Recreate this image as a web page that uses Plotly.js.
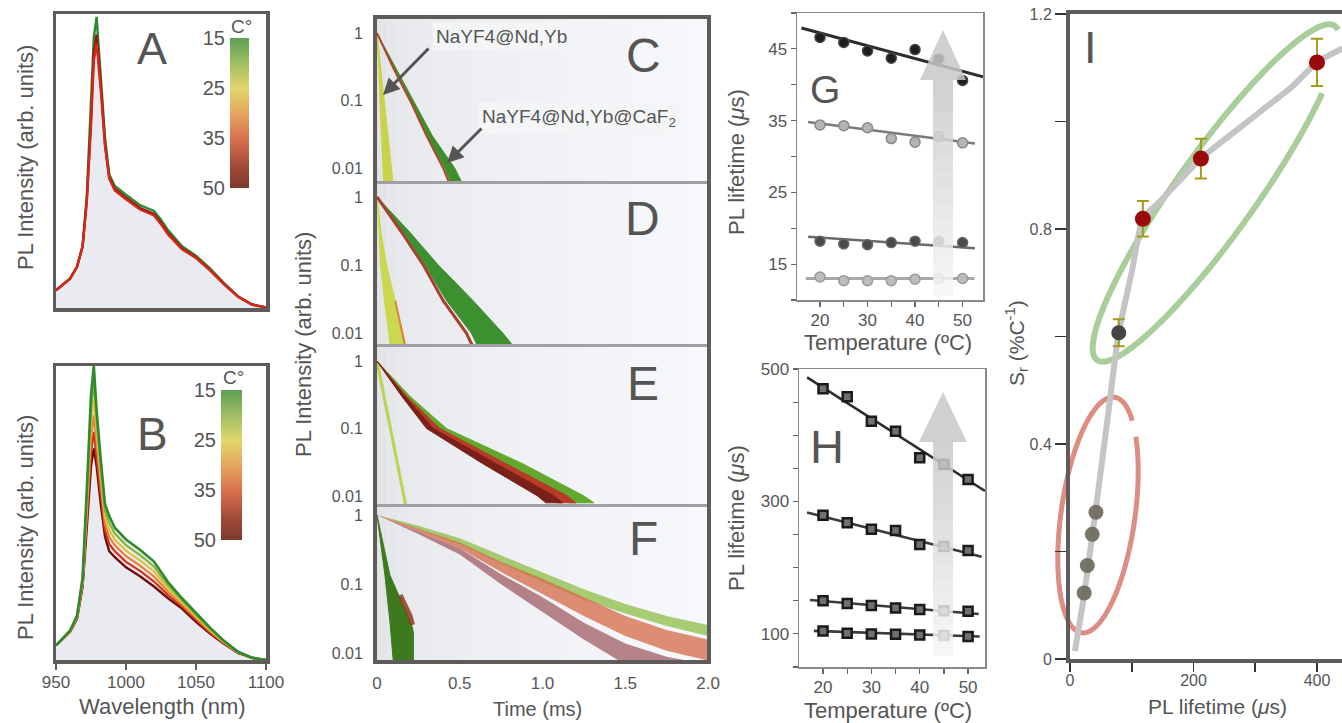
<!DOCTYPE html>
<html>
<head>
<meta charset="utf-8">
<script src="https://cdn.plot.ly/plotly-3.0.1.min.js"></script>
<style>html,body{margin:0;padding:0;background:#fff;}#chart{width:1342px;height:723px;}</style>
</head>
<body>
<div id="chart"></div>
<script>
// ================= DATA =================
// Panels A/B : emission spectra (normalised)
const wavelengthNm = [950,960,965,969,972,975,977,979,982,985,988,992,1000,1010,1020,1025,1030,1040,1050,1060,1070,1080,1090,1100];
const specA_15C = [0.06,0.10,0.14,0.21,0.38,0.68,0.92,0.99,0.80,0.58,0.455,0.415,0.385,0.35,0.33,0.30,0.265,0.21,0.178,0.135,0.085,0.04,0.012,0.002];
const specA_35C = [0.06,0.10,0.14,0.21,0.37,0.64,0.87,0.93,0.76,0.56,0.445,0.405,0.375,0.34,0.32,0.29,0.255,0.203,0.172,0.13,0.082,0.039,0.012,0.002];
const specA_50C = [0.06,0.10,0.14,0.21,0.36,0.62,0.84,0.90,0.74,0.55,0.44,0.40,0.37,0.335,0.315,0.285,0.25,0.20,0.17,0.128,0.08,0.038,0.011,0.002];
const specB_15C = [0.05,0.10,0.15,0.28,0.58,0.90,1.00,0.85,0.68,0.53,0.49,0.45,0.41,0.375,0.335,0.30,0.265,0.21,0.16,0.11,0.065,0.028,0.008,0.0];
const specB_22C = [0.05,0.099,0.148,0.274,0.554,0.852,0.944,0.812,0.65,0.508,0.466,0.43,0.391,0.357,0.318,0.286,0.254,0.203,0.154,0.106,0.063,0.027,0.008,0];
const specB_29C = [0.05,0.098,0.146,0.268,0.528,0.804,0.888,0.774,0.62,0.486,0.442,0.41,0.372,0.339,0.301,0.272,0.243,0.196,0.148,0.102,0.061,0.026,0.008,0];
const specB_36C = [0.05,0.097,0.144,0.262,0.502,0.756,0.832,0.736,0.59,0.464,0.418,0.39,0.353,0.321,0.284,0.258,0.232,0.189,0.142,0.098,0.059,0.026,0.007,0];
const specB_43C = [0.05,0.096,0.142,0.256,0.476,0.708,0.776,0.698,0.56,0.442,0.394,0.37,0.334,0.303,0.267,0.244,0.221,0.182,0.136,0.094,0.057,0.025,0.007,0];
const specB_50C = [0.05,0.095,0.14,0.25,0.45,0.66,0.72,0.66,0.53,0.42,0.37,0.35,0.315,0.285,0.25,0.23,0.21,0.175,0.13,0.09,0.055,0.024,0.007,0.0];
const cbTemps = [15,25,35,50];
const cbPos = [0,1,2,3];
const cbTickText = ['15','25','35','50'];

// Panels C-F : decay curves (time in ms at given intensity levels)
const cCoreLv = [1,0.1,0.01,0.005];
const cCoreEarly = [0,0.016,0.036,0.042];
const cCoreLate = [0,0.045,0.088,0.10];
const cShellLv = [1,0.3,0.1,0.03,0.01,0.005];
const cShellEarly = [0,0.105,0.205,0.305,0.41,0.46];
const cShellLate = [0,0.11,0.22,0.335,0.47,0.53];
const cShellRed = [0,0.10,0.20,0.30,0.40,0.45];

const dLv = [1,0.3,0.1,0.03,0.01,0.005];
const dCoreEarly = [0,0.01,0.022,0.045,0.073,0.085];
const dCoreLate = [0,0.025,0.058,0.11,0.157,0.18];
const dShellRed = [0,0.15,0.28,0.40,0.54,0.60];
const dShellEarly = [0,0.16,0.29,0.42,0.57,0.63];
const dShellLate = [0,0.20,0.37,0.58,0.76,0.86];

const eLv = [1,0.3,0.1,0.03,0.01,0.0079];
const eCoreT = [0,0.08,0.16,0.175];
const eCoreI = [1,0.1,0.01,0.007];
const eDarkEarly = [0,0.15,0.30,0.64,0.97,1.02];
const eDarkLate = [0,0.17,0.34,0.72,1.07,1.12];
const eRedEarly = [0,0.16,0.32,0.68,1.04,1.09];
const eRedLate = [0,0.18,0.38,0.78,1.15,1.20];
const eGreenEarly = [0,0.17,0.35,0.74,1.10,1.16];
const eGreenLate = [0,0.20,0.42,0.88,1.25,1.31];

const fCoreT = [0,0.078,0.21,0.22,0.22,0.10,0.08,0.048,0];
const fCoreI = [1,0.136,0.026,0.02,0.007,0.007,0.026,0.136,1];
const fCoreTailT = [0.14,0.20,0.215];
const fCoreTailI = [0.07,0.035,0.026];
const fT = [0,0.25,0.5,0.75,1.0,1.25,1.5,1.75,2.0];
const fGreenHi = [1,0.70,0.46,0.26,0.15,0.085,0.052,0.035,0.026];
const fGreenLo = [1,0.62,0.38,0.20,0.11,0.06,0.038,0.025,0.018];
const fOrangeHi = [1,0.63,0.40,0.21,0.12,0.065,0.035,0.022,0.016];
const fOrangeLo = [1,0.57,0.33,0.15,0.072,0.035,0.018,0.011,0.008];
const fDarkHi = [1,0.58,0.33,0.14,0.065,0.028,0.014,0.009,0.007];
const fDarkLo = [1,0.53,0.27,0.10,0.04,0.016,0.007,0.004,0.003];
const timeTickVals = [0,0.5,1.0,1.5,2.0];
const timeTickText = ['0','0.5','1.0','1.5','2.0'];

// Panel G : lifetimes (µs) vs temperature
const tempC = [20,25,30,35,40,45,50];
const g1 = [46.6,45.9,44.7,43.7,44.9,43.6,40.6];
const g2 = [34.4,34.3,34.0,32.5,32.0,32.8,31.9];
const g3 = [18.2,17.8,17.7,18.0,18.2,18.2,18.0];
const g4 = [13.2,12.7,12.7,12.7,12.9,13.0,13.0];
const gFit1T = [16.1,54.3], gFit1 = [47.9,41.1];
const gFit2T = [17.5,52.6], gFit2 = [34.8,31.8];
const gFit3T = [17.5,52.6], gFit3 = [18.8,17.2];
const gFit4T = [17.0,52.5], gFit4 = [13.0,13.0];
// Panel H
const h1 = [470,458,421,406,366,356,333];
const h2 = [279,268,258,256,235,232,226];
const h3 = [150,146,143,139,137,135,134];
const h4 = [104.5,101,100,99.5,98.5,97.5,96];
const hFit1T = [16.7,53.5], hFit1 = [487.5,315.8];
const hFit2T = [16.7,52.8], hFit2 = [283.2,216.4];
const hFit3T = [17.3,52.2], hFit3 = [151.2,130];
const hFit4T = [18.1,52.4], hFit4 = [104.5,96];
const tempTickVals = [20,25,30,35,40,45,50];
const tempTickText = ['20','','30','','40','','50'];
const gTickVals = [10,15,20,25,30,35,40,45,50];
const gTickText = ['','15','','25','','35','','45',''];
const hTickVals = [50,100,150,200,250,300,350,400,450,500];
const hTickText = ['','100','','','','300','','','','500'];

// Panel I : relative sensitivity vs lifetime
const iRedLife = [118,212,400];
const iRedSr = [0.819,0.931,1.11];
const iRedErr = [0.033,0.037,0.044];
const iGrayLife = [79];
const iGraySr = [0.607];
const iGrayErr = [0.025];
const iLowLife = [42,36,28,23];
const iLowSr = [0.273,0.232,0.174,0.123];
const iCurveLife = [8,23,36,42,60,79,100,118,146,175,212,260,310,360,400,441];
const iCurveSr = [0.015,0.12,0.23,0.28,0.44,0.607,0.72,0.819,0.852,0.887,0.931,0.975,1.02,1.065,1.11,1.136];
const iXTickVals = [0,100,200,300,400];
const iXTickText = ['0','','200','','400'];
const iYTickVals = [0,0.2,0.4,0.6,0.8,1.0,1.2];
const iYTickText = ['0','','0.4','','0.8','','1.2'];

// ================= STYLE / LAYOUT =================
const W = 1342, H = 723;
const FONT = 'Liberation Sans, Arial, Helvetica, sans-serif';
const TXT = '#555555';
const FRAME = '#5f5b5b';
const xd = (a,b) => [a/W, b/W];
const yd = (top,bottom) => [1-bottom/H, 1-top/H];
const px = v => v/W, py = v => 1-v/H;

const traces = [];
function line(xa, ya, x, y, color, width, extra) {
  traces.push(Object.assign({type:'scatter', mode:'lines', x:x, y:y, xaxis:xa, yaxis:ya,
    line:{color:color, width:width}, hoverinfo:'skip', showlegend:false}, extra||{}));
}
function band(xa, ya, levels, early, late, color) {
  traces.push({type:'scatter', mode:'lines', xaxis:xa, yaxis:ya,
    x: early.concat(late.slice().reverse()), y: levels.concat(levels.slice().reverse()),
    fill:'toself', fillcolor:color, line:{color:color, width:1}, hoverinfo:'skip', showlegend:false});
}
function vband(xa, ya, x, lo, hi, color) {
  traces.push({type:'scatter', mode:'lines', x:x, y:lo, xaxis:xa, yaxis:ya, line:{width:0, color:color}, hoverinfo:'skip', showlegend:false});
  traces.push({type:'scatter', mode:'lines', x:x, y:hi, xaxis:xa, yaxis:ya, fill:'tonexty', fillcolor:color, line:{width:0, color:color}, hoverinfo:'skip', showlegend:false});
}

// ---- A ----
line('x','y', wavelengthNm, specA_15C, 'rgba(0,0,0,0)', 0, {fill:'tozeroy', fillcolor:'#e9ebf0'});
line('x','y', wavelengthNm, specA_15C, '#2e8a2e', 2.4);
line('x','y', wavelengthNm, specA_35C, '#8c1a10', 2.4);
line('x','y', wavelengthNm, specA_50C, '#d8261a', 2.4);
// ---- B ----
line('x2','y2', wavelengthNm, specB_15C, 'rgba(0,0,0,0)', 0, {fill:'tozeroy', fillcolor:'#e9ebf0'});
line('x2','y2', wavelengthNm, specB_50C, '#6e0c0c', 2.4);
line('x2','y2', wavelengthNm, specB_43C, '#d2321c', 2.2);
line('x2','y2', wavelengthNm, specB_36C, '#e8803a', 2.2);
line('x2','y2', wavelengthNm, specB_29C, '#e2c23a', 2.2);
line('x2','y2', wavelengthNm, specB_22C, '#86b43a', 2.2);
line('x2','y2', wavelengthNm, specB_15C, '#2e8a2e', 2.6);
// ---- colour bars ----
const cbScale = [[0,'#5f9f56'],[0.14,'#9fbd63'],[0.286,'#e1d76b'],[0.43,'#e4a55d'],[0.571,'#d9714f'],[0.8,'#a44b39'],[1,'#7b3a2c']];
const cbZ = cbTemps.map(t => [t,t]);
traces.push({type:'heatmap', x:[0,1], y:cbPos, z:cbZ, xaxis:'x10', yaxis:'y10', colorscale:cbScale, zmin:15, zmax:50, zsmooth:'best', showscale:false, hoverinfo:'skip'});
traces.push({type:'heatmap', x:[0,1], y:cbPos, z:cbZ, xaxis:'x11', yaxis:'y11', colorscale:cbScale, zmin:15, zmax:50, zsmooth:'best', showscale:false, hoverinfo:'skip'});

// ---- C ----
band('x3','y3', cCoreLv, cCoreEarly, cCoreLate, '#c9d34a');
band('x3','y3', cShellLv, cShellEarly, cShellLate, '#3e8e2c');
line('x3','y3', cShellRed, cShellLv, '#b0442c', 2);
// ---- D ----
band('x4','y4', dLv, dCoreEarly, dCoreLate, '#c9d84e');
line('x4','y4', dCoreLate.slice(3), dLv.slice(3), '#e0803a', 2);
band('x4','y4', dLv, dShellEarly, dShellLate, '#3c9030');
line('x4','y4', dShellRed, dLv, '#a84030', 3);
// ---- E ----
line('x5','y5', eCoreT, eCoreI, '#b8d450', 3);
band('x5','y5', eLv, eGreenEarly, eGreenLate, '#62a82c');
band('x5','y5', eLv, eRedEarly, eRedLate, '#b83a28');
band('x5','y5', eLv, eDarkEarly, eDarkLate, '#7a2018');
// ---- F ----
traces.push({type:'scatter', mode:'lines', x:fCoreT, y:fCoreI, xaxis:'x6', yaxis:'y6', fill:'toself', fillcolor:'#3d7a1e', line:{color:'#3d7a1e', width:1}, hoverinfo:'skip', showlegend:false});
line('x6','y6', fCoreTailT, fCoreTailI, 'rgba(140,60,25,0.85)', 5);
vband('x6','y6', fT, fDarkLo, fDarkHi, 'rgba(140,55,65,0.6)');
vband('x6','y6', fT, fGreenLo, fGreenHi, 'rgba(140,190,70,0.75)');
vband('x6','y6', fT, fOrangeLo, fOrangeHi, 'rgba(212,105,70,0.75)');

// ---- G ----
line('x7','y7', gFit1T, gFit1, '#2e2e2e', 3);
line('x7','y7', gFit2T, gFit2, '#7a7a7a', 2.5);
line('x7','y7', gFit3T, gFit3, '#6a6a6a', 2.5);
line('x7','y7', gFit4T, gFit4, '#a8a8a8', 3);
function gMarkers(y, fill, edge) {
  traces.push({type:'scatter', mode:'markers', x:tempC, y:y, xaxis:'x7', yaxis:'y7',
    marker:{size:10, color:fill, line:{color:edge, width:1.5}}, hoverinfo:'skip', showlegend:false});
}
gMarkers(g1, '#1e1e1e', '#444');
gMarkers(g2, '#b4b4b4', '#8a8a8a');
gMarkers(g3, '#4a4a4a', '#666');
gMarkers(g4, '#bcbcbc', '#9a9a9a');
// ---- H ----
line('x8','y8', hFit1T, hFit1, '#2e2e2e', 2.6);
line('x8','y8', hFit2T, hFit2, '#3a3a3a', 2.6);
line('x8','y8', hFit3T, hFit3, '#3a3a3a', 2.6);
line('x8','y8', hFit4T, hFit4, '#3a3a3a', 2.6);
[h1,h2,h3,h4].forEach(y => traces.push({type:'scatter', mode:'markers', x:tempC, y:y, xaxis:'x8', yaxis:'y8',
  marker:{symbol:'square', size:9, color:'#707070', line:{color:'#1a1a1a', width:2.5}}, hoverinfo:'skip', showlegend:false}));

// ---- I ----
line('x9','y9', iCurveLife, iCurveSr, '#c4c4c4', 6, {line:{color:'#c4c4c4', width:6, shape:'spline', smoothing:0.6}});
traces.push({type:'scatter', mode:'markers', x:iLowLife, y:iLowSr, xaxis:'x9', yaxis:'y9',
  marker:{size:15, color:'rgba(108,106,92,0.92)'}, hoverinfo:'skip', showlegend:false});
traces.push({type:'scatter', mode:'markers', x:iGrayLife, y:iGraySr, xaxis:'x9', yaxis:'y9',
  error_y:{type:'data', array:iGrayErr, color:'#a39b1c', thickness:2, width:6},
  marker:{size:15, color:'#454545'}, hoverinfo:'skip', showlegend:false});
traces.push({type:'scatter', mode:'markers', x:iRedLife, y:iRedSr, xaxis:'x9', yaxis:'y9',
  error_y:{type:'data', array:iRedErr, color:'#a39b1c', thickness:2, width:6},
  marker:{size:16, color:'#9b0a0a'}, hoverinfo:'skip', showlegend:false});

// ---- axes ----
function axis(domain, anchor, o) {
  return Object.assign({domain:domain, anchor:anchor, showgrid:false, zeroline:false, fixedrange:true,
    ticks:'', showticklabels:false, showline:true, mirror:true, linecolor:FRAME, linewidth:3.5,
    tickfont:{size:17, color:TXT, family:FONT}}, o||{});
}
const panelLine = {linecolor:'#a0a0a2', linewidth:2};
const logTicks = {type:'log', tickvals:[0.01,0.1,1], ticktext:['0.01','0.1','1'], showticklabels:true, ticklabelstandoff:7,
  tickfont:{size:16, color:TXT, family:FONT}};
const thinBox = {linecolor:'#8a8a8a', linewidth:1.5, ticks:'outside', ticklen:5, tickwidth:1.2, tickcolor:'#666', showticklabels:true};

const layout = {
  width:W, height:H, margin:{l:0,r:0,t:0,b:0}, paper_bgcolor:'#ffffff', plot_bgcolor:'rgba(0,0,0,0)',
  showlegend:false, font:{family:FONT, color:TXT, size:17}, hovermode:false,
  xaxis: axis(xd(56,266),'y',{range:[950,1100]}),
  yaxis: axis(yd(14,308),'x',{range:[0,1.0]}),
  xaxis2: axis(xd(56,266),'y2',{range:[950,1100], ticks:'outside', ticklen:6, tickwidth:2, tickcolor:FRAME,
    tickvals:[950,1000,1050,1100], showticklabels:true, ticklabelstandoff:-2}),
  yaxis2: axis(yd(366,660),'x2',{range:[0,1.0]}),
  xaxis3: axis(xd(375,709),'y3',Object.assign({range:[-0.012,2.006]}, panelLine)),
  yaxis3: axis(yd(17,181),'x3',Object.assign({range:[-2.19,0.24]}, panelLine, logTicks)),
  xaxis4: axis(xd(375,709),'y4',Object.assign({range:[-0.012,2.006]}, panelLine)),
  yaxis4: axis(yd(184,344),'x4',Object.assign({range:[-2.16,0.19]}, panelLine, logTicks)),
  xaxis5: axis(xd(375,709),'y5',Object.assign({range:[-0.012,2.006]}, panelLine)),
  yaxis5: axis(yd(347,504),'x5',Object.assign({range:[-2.12,0.21]}, panelLine, logTicks)),
  xaxis6: axis(xd(375,709),'y6',Object.assign({range:[-0.012,2.006], tickvals:timeTickVals, ticktext:timeTickText,
    showticklabels:true, ticklabelstandoff:5}, panelLine)),
  yaxis6: axis(yd(507,662),'x6',Object.assign({range:[-2.12,0.115]}, panelLine, logTicks)),
  xaxis7: axis(xd(797,983),'y7',Object.assign({range:[15.16,54.3], tickvals:tempTickVals, ticktext:tempTickText, ticklabelstandoff:-1}, thinBox)),
  yaxis7: axis(yd(13,300),'x7',Object.assign({range:[10,50], tickvals:gTickVals, ticktext:gTickText}, thinBox)),
  xaxis8: axis(xd(799,985),'y8',Object.assign({range:[15.03,53.5], tickvals:tempTickVals, ticktext:tempTickText, ticklabelstandoff:-1}, thinBox)),
  yaxis8: axis(yd(369,667),'x8',Object.assign({range:[50,500], tickvals:hTickVals, ticktext:hTickText}, thinBox)),
  xaxis9: axis(xd(1070,1342),'y9',{range:[0,440.5], mirror:true, linewidth:4, ticks:'outside', ticklen:9, tickwidth:1.5,
    tickcolor:'#333', tickvals:iXTickVals, ticktext:iXTickText, showticklabels:true, ticklabelstandoff:-5,
    tickfont:{size:16,color:TXT,family:FONT}}),
  yaxis9: axis(yd(14,659),'x9',{range:[0,1.2], mirror:false, linewidth:4, ticks:'outside', ticklen:11, tickwidth:1.5,
    tickcolor:'#333', tickvals:iYTickVals, ticktext:iYTickText, showticklabels:true, tickfont:{size:16,color:TXT,family:FONT}}),
  xaxis10: axis(xd(230,249),'y10',{range:[0,1], showline:false}),
  yaxis10: axis(yd(38,188),'x10',{range:[3.001,-0.001], showline:false, tickvals:cbPos, ticktext:cbTickText,
    showticklabels:true, ticklabelstandoff:4, tickfont:{size:20,color:TXT,family:FONT}}),
  xaxis11: axis(xd(221,242),'y11',{range:[0,1], showline:false}),
  yaxis11: axis(yd(390,540),'x11',{range:[3.001,-0.001], showline:false, tickvals:cbPos, ticktext:cbTickText,
    showticklabels:true, ticklabelstandoff:4, tickfont:{size:20,color:TXT,family:FONT}}),
  shapes: [], annotations: []
};

// background gradient for C-F (decoration)
const NS = 30;
for (let i = 0; i < NS; i++) {
  const t = i/(NS-1);
  const g = Math.round(227 + 20*Math.pow(t,0.55));
  layout.shapes.push({type:'rect', xref:'paper', yref:'paper', layer:'below',
    x0:px(375 + 334*i/NS), x1:px(375 + 334*(i+1)/NS + 0.5), y0:py(662), y1:py(17),
    fillcolor:`rgb(${g},${g+1},${Math.min(255,g+4)})`, line:{width:0}});
}
// outer frame for C-F
layout.shapes.push({type:'rect', xref:'paper', yref:'paper', layer:'above', x0:px(375), x1:px(709), y0:py(662), y1:py(17),
  line:{color:FRAME, width:4}});

// gradient block arrows in G and H (decoration)
function blockArrow(cx, top, base, bottom, headHalf, shaftHalf) {
  layout.shapes.push({type:'path', xref:'paper', yref:'paper', layer:'above', opacity:0.85,
    path:`M${px(cx-headHalf)},${py(base)} L${px(cx)},${py(top)} L${px(cx+headHalf)},${py(base)} Z`,
    fillcolor:'#c8c8c8', line:{width:0}});
  const N = 14;
  for (let i = 0; i < N; i++) {
    const y0 = base + (bottom-base)*i/N, y1 = base + (bottom-base)*(i+1)/N;
    const g = Math.round(202 + 42*i/(N-1));
    layout.shapes.push({type:'rect', xref:'paper', yref:'paper', layer:'above', opacity:0.85,
      x0:px(cx-shaftHalf), x1:px(cx+shaftHalf), y0:py(y1+0.5), y1:py(y0),
      fillcolor:`rgb(${g},${g},${g})`, line:{width:0}});
  }
}
blockArrow(943, 30, 80, 295, 23, 10);
blockArrow(943, 392, 442, 655, 24, 10);

// ellipses in I (decoration)
function ellipse(cx, cy, a, b, ux, uy, t0, t1, color, width) {
  const vx = -uy, vy = ux; let s = '';
  const n = 120;
  for (let i = 0; i <= n; i++) {
    const t = t0 + (t1-t0)*i/n;
    const X = cx + a*Math.cos(t)*ux + b*Math.sin(t)*vx;
    const Y = cy + a*Math.cos(t)*uy + b*Math.sin(t)*vy;
    s += (i ? ' L' : 'M') + px(X).toFixed(5) + ',' + py(Y).toFixed(5);
  }
  layout.shapes.push({type:'path', xref:'paper', yref:'paper', layer:'below', path:s, line:{color:color, width:width}});
}
ellipse(1216, 193, 205, 40, 0.580, -0.815, 0.8, 2*Math.PI+0.12, 'rgba(140,190,122,0.75)', 6);
ellipse(1098, 515, 119, 37, 0.139, -0.990, 0.8, 2*Math.PI+0.6, 'rgba(214,112,100,0.8)', 5);

// annotations
function ann(text, x, y, size, o) {
  layout.annotations.push(Object.assign({text:text, xref:'paper', yref:'paper', x:px(x), y:py(y),
    xanchor:'center', yanchor:'middle', showarrow:false, font:{family:FONT, size:size, color:TXT}}, o||{}));
}
// panel letters
ann('A', 152, 49, 45); ann('B', 152, 434, 46);
ann('C', 643, 56, 48); ann('D', 642, 218, 48); ann('E', 643, 383, 48); ann('F', 643, 538, 48);
ann('G', 825, 89, 39); ann('H', 827, 446, 47); ann('I', 1090, 48, 45);
// colour bar unit
ann('C°', 241, 27, 19); ann('C°', 233, 377, 19);
// axis titles
ann('PL Intensity (arb. units)', 25, 158, 22, {textangle:-90});
ann('PL Intensity (arb. units)', 25, 528, 22, {textangle:-90});
ann('Wavelength (nm)', 162, 706, 22);
ann('PL Intensity (arb. units)', 303, 345, 22, {textangle:-90});
ann('Time (ms)', 537, 709, 20);
ann('PL lifetime (<i>μ</i>s)', 736, 162, 22, {textangle:-90});
ann('Temperature (ºC)', 888, 342, 22);
ann('PL lifetime (<i>μ</i>s)', 736, 518, 22, {textangle:-90});
ann('Temperature (ºC)', 888, 710, 22);
ann('S<sub>r</sub> (%C<sup>-1</sup>)', 1016, 343, 21, {textangle:-90});
ann('PL lifetime (<i>μ</i>s)', 1217, 706, 21);
// sample labels and arrows in C
ann('NaYF4@Nd,Yb', 501, 36, 19, {bgcolor:'rgba(243,244,246,0.95)', borderpad:3});
ann('NaYF4@Nd,Yb@CaF<sub>2</sub>', 579, 118, 19, {bgcolor:'rgba(243,244,246,0.95)', borderpad:3});
layout.annotations.push({xref:'paper', yref:'paper', x:px(383), y:py(95), ax:47, ay:-48, text:'', showarrow:true,
  arrowhead:2, arrowsize:1.1, arrowwidth:3, arrowcolor:'#555'});
layout.annotations.push({xref:'paper', yref:'paper', x:px(447), y:py(163), ax:36, ay:-36, text:'', showarrow:true,
  arrowhead:2, arrowsize:1.1, arrowwidth:3, arrowcolor:'#555'});

Plotly.newPlot('chart', traces, layout, {staticPlot:true, displayModeBar:false});
</script>
</body>
</html>
